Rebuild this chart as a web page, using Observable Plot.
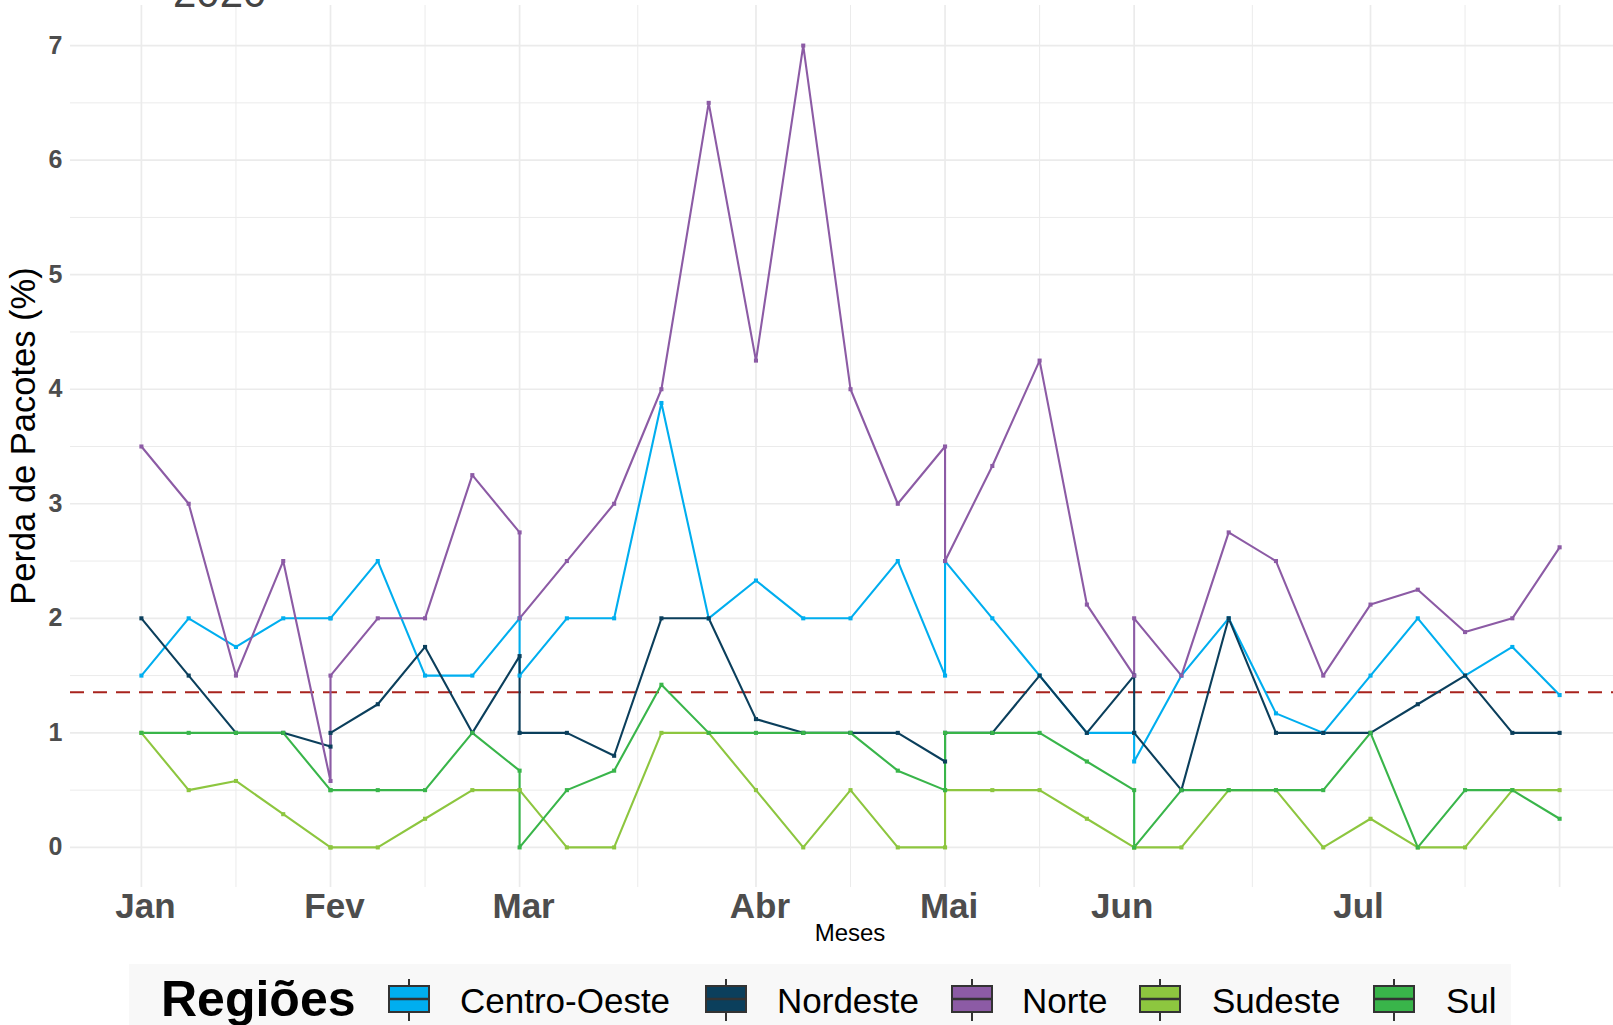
<!DOCTYPE html>
<html>
<head>
<meta charset="utf-8">
<script src="https://cdn.jsdelivr.net/npm/d3@7"></script>
<script src="https://cdn.jsdelivr.net/npm/@observablehq/plot@0.6"></script>
<style>
  html, body { margin: 0; padding: 0; background: #fff; }
  #wrap { position: relative; width: 1613px; height: 1025px; overflow: hidden; font-family: "Liberation Sans", Arial, sans-serif; }
  #wrap > svg.plot { position: absolute; left: 0; top: 0; }
  #overlay { position: absolute; left: 0; top: 0; pointer-events: none; }
  g[aria-label="y-axis tick label"] text { font-weight: bold; }
  g[aria-label="x-axis tick label"] text { font-weight: bold; }
</style>
</head>
<body>
<div id="wrap"></div>
<script>
// ---- data ----
const semana = [0,1,2,3,4, 4,5,6,7,8, 8,9,10,11,12, 13,14,15,16,17, 17,18,19,20,21, 21,22,23,24,25, 26,27,28,29,30];
const regioes = ["Centro-Oeste", "Nordeste", "Norte", "Sudeste", "Sul"];
const cores = ["#00AEEF", "#0B3F5C", "#8C5BA5", "#8DC63F", "#39B54A"];
const centroOeste = [1.5,2,1.75,2,2, 2,2.5,1.5,1.5,2, 1.5,2,2,3.88,2, 2.33,2,2,2.5,1.5, 2.5,2,1.5,1,1, 0.75,1.5,2,1.17,1, 1.5,2,1.5,1.75,1.33];
const nordeste    = [2,1.5,1,1,0.88, 1,1.25,1.75,1,1.67, 1,1,0.8,2,2, 1.12,1,1,1,0.75, 1,1,1.5,1,1.5, 1,0.5,2,1,1, 1,1.25,1.5,1,1];
const norte       = [3.5,3,1.5,2.5,0.58, 1.5,2,2,3.25,2.75, 2,2.5,3,4,6.5, 4.25,7,4,3,3.5, 2.5,3.33,4.25,2.12,1.5, 2,1.5,2.75,2.5,1.5, 2.12,2.25,1.88,2,2.62];
const sudeste     = [1,0.5,0.58,0.29,0, 0,0,0.25,0.5,0.5, 0.5,0,0,1,1, 0.5,0,0.5,0,0, 0.5,0.5,0.5,0.25,0, 0,0,0.5,0.5,0, 0.25,0,0,0.5,0.5];
const sul         = [1,1,1,1,0.5, 0.5,0.5,0.5,1,0.67, 0,0.5,0.67,1.42,1, 1,1,1,0.67,0.5, 1,1,1,0.75,0.5, 0,0.5,0.5,0.5,0.5, 1,0,0.5,0.5,0.25];
const mesesTicksA = [0, 4, 8, 13, 17];
const mesesTicksB = [21, 26];
const mesesTicks  = [...mesesTicksA, ...mesesTicksB];
const mesesLabels = ["Jan", "Fev", "Mar", "Abr", "Mai", "Jun", "Jul"];
const gradeXMaior = [0, 4, 8, 13, 17, 21, 26, 30];
const gradeXMenor = [2, 6, 10.5, 15, 19, 23.5, 28];
const yTicks      = [0, 1, 2, 3, 4, 5, 6, 7];
const gradeYMenor = [0.5, 1.5, 2.5, 3.5, 4.5, 5.5, 6.5];
const titulo = "2020";

// ---- build table ----
const valores = [centroOeste, nordeste, norte, sudeste, sul];
const dados = regioes.flatMap((r, k) => valores[k].map((v, j) => ({regiao: r, semana: semana[j], perda: v})));
const media = d3.mean(dados, d => d.perda);
const fmtMes = d => mesesLabels[mesesTicks.indexOf(d)];

const W = 1613, H = 950;
const eixoX = {tickFormat: fmtMes, tickSize: 0, tickPadding: 6, fontSize: 35, fill: "#4d4d4d", label: null};
const chart = Plot.plot({
  width: W, height: H,
  marginLeft: 70, marginRight: 0, marginTop: 5, marginBottom: 63,
  style: {fontFamily: '"Liberation Sans", Arial, sans-serif', background: "transparent"},
  x: {domain: [-1.5, 31.14]},
  y: {domain: [-0.35, 7.35]},
  color: {domain: regioes, range: cores},
  marks: [
    Plot.ruleY(gradeYMenor, {stroke: "#ebebeb", strokeWidth: 1}),
    Plot.ruleX(gradeXMenor, {stroke: "#ebebeb", strokeWidth: 1}),
    Plot.ruleY(yTicks, {stroke: "#ebebeb", strokeWidth: 1.7}),
    Plot.ruleX(gradeXMaior, {stroke: "#ebebeb", strokeWidth: 1.7}),
    Plot.axisY({ticks: yTicks, tickSize: 0, tickPadding: 8, fontSize: 25, fill: "#4d4d4d", label: null}),
    Plot.axisX({...eixoX, ticks: mesesTicksA, dx: 4}),
    Plot.axisX({...eixoX, ticks: mesesTicksB, dx: -12}),
    Plot.ruleY([media], {stroke: "#a8231d", strokeWidth: 2, strokeDasharray: "14,9"}),
    Plot.line(dados, {x: "semana", y: "perda", z: "regiao", stroke: "regiao", strokeWidth: 2.1}),
    Plot.dot(dados, {x: "semana", y: "perda", fill: "regiao", symbol: "square", r: 2.3})
  ]
});
chart.classList.add("plot");
const wrap = document.getElementById("wrap");
wrap.appendChild(chart);

// ---- overlay: title, axis titles, legend ----
const ov = d3.select(wrap).append("svg").attr("id", "overlay")
  .attr("width", W).attr("height", 1025)
  .style("font-family", '"Liberation Sans", Arial, sans-serif');

ov.append("text").attr("x", 173).attr("y", 7).attr("font-size", 42).attr("fill", "#444").text(titulo);

ov.append("text").attr("transform", "translate(35,436) rotate(-90)")
  .attr("text-anchor", "middle").attr("font-size", 34.5).attr("fill", "#000").text("Perda de Pacotes (%)");

ov.append("text").attr("x", 850).attr("y", 941).attr("text-anchor", "middle")
  .attr("font-size", 24).attr("fill", "#000").text("Meses");

ov.append("rect").attr("x", 129).attr("y", 964).attr("width", 1382).attr("height", 61).attr("fill", "#f8f8f8");
ov.append("text").attr("x", 161).attr("y", 1016).attr("font-size", 50).attr("font-weight", "bold")
  .attr("fill", "#000").text("Regiões");

const keyCx = [409, 726, 972, 1160, 1394];
const labelX = [460, 777, 1022, 1212, 1446];
regioes.forEach((r, k) => {
  const g = ov.append("g");
  const cx = keyCx[k];
  g.append("line").attr("x1", cx).attr("x2", cx).attr("y1", 979).attr("y2", 1021).attr("stroke", "#333").attr("stroke-width", 2);
  g.append("rect").attr("x", cx - 20).attr("y", 986).attr("width", 40).attr("height", 26)
    .attr("fill", cores[k]).attr("stroke", "#333").attr("stroke-width", 2);
  g.append("line").attr("x1", cx - 20).attr("x2", cx + 20).attr("y1", 999).attr("y2", 999).attr("stroke", "#333").attr("stroke-width", 2.5);
  g.append("text").attr("x", labelX[k]).attr("y", 1013).attr("font-size", 35).attr("fill", "#000").text(r);
});
</script>
</body>
</html>
